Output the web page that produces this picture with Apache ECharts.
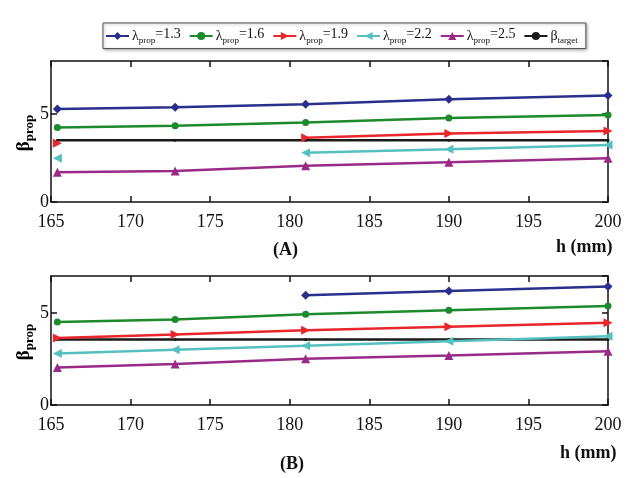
<!DOCTYPE html>
<html><head><meta charset="utf-8">
<script src="https://cdn.jsdelivr.net/npm/echarts@6/dist/echarts.min.js"></script>
<style>html,body{margin:0;padding:0;background:#fff}#c{width:630px;height:478px}</style>
</head><body><div id="c"></div>
<script>
// ---- data ----
var h = [165.4, 172.8, 181, 190, 200];
var seriesNames = ['λprop=1.3', 'λprop=1.6', 'λprop=1.9', 'λprop=2.2', 'λprop=2.5', 'βtarget'];
// Panel A
var A_l13 = [5.28, 5.38, 5.55, 5.83, 6.04];
var A_l16 = [4.22, 4.32, 4.51, 4.76, 4.94];
var A_l19 = [3.34, null, 3.65, 3.88, 4.03];
var A_l22 = [2.48, null, 2.80, 2.99, 3.24];
var A_l25 = [1.69, 1.76, 2.05, 2.26, 2.48];
var A_tgt = [3.5, 3.5, 3.5, 3.5, 3.5];
// Panel B
var B_l13 = [null, null, 5.96, 6.19, 6.43];
var B_l16 = [4.50, 4.64, 4.92, 5.14, 5.37];
var B_l19 = [3.64, 3.83, 4.06, 4.25, 4.46];
var B_l22 = [2.79, 3.00, 3.22, 3.46, 3.73];
var B_l25 = [2.04, 2.22, 2.51, 2.69, 2.91];
var B_tgt = [3.55, 3.55, 3.55, 3.55, 3.55];
var xTicks = [165, 170, 175, 180, 185, 190, 195, 200];
var yMaxA = 8, yMaxB = 7;

var colors = ['#2a2e8c', '#1b8a2b', '#e8262b', '#56c0c0', '#9a2a88', '#1a1a1a'];
var symbols = [
  {s: 'diamond', r: 0, z: 9},
  {s: 'circle', r: 0, z: 7},
  {s: 'triangle', r: -90, z: 9},
  {s: 'triangle', r: 90, z: 9},
  {s: 'triangle', r: 0, z: 9},
  {s: 'circle', r: 0, z: 3}
];
function pairs(arr){ return h.map(function(x,i){ return [x, arr[i]]; }); }
var dataA = [A_l13, A_l16, A_l19, A_l22, A_l25, A_tgt];
var dataB = [B_l13, B_l16, B_l19, B_l22, B_l25, B_tgt];

var series = [];
[dataA, dataB].forEach(function(d, gi){
  d.forEach(function(arr, si){
    series.push({
      name: seriesNames[si], type: 'line', xAxisIndex: gi*2, yAxisIndex: gi*2,
      data: pairs(arr), connectNulls: false, showAllSymbol: true,
      symbol: symbols[si].s, symbolRotate: symbols[si].r, symbolSize: symbols[si].z,
      lineStyle: {color: colors[si], width: 2.5},
      itemStyle: {color: colors[si]},
      z: si === 5 ? 1 : 2, animation: false
    });
  });
});

var serif = 'Liberation Serif';
function xAxes(gi){
  var base = {
    type: 'value', min: 165, max: 200, interval: 5, gridIndex: gi,
    axisLine: {show: true, onZero: false, lineStyle: {color: '#111', width: 1.5}},
    axisTick: {show: true, inside: true, length: 6, lineStyle: {color: '#111', width: 1.5}},
    splitLine: {show: false}
  };
  var bottom = Object.assign({}, base, {position: 'bottom',
    axisLabel: {color: '#111', fontFamily: serif, fontSize: 18, margin: 11,
      customValues: xTicks}});
  var top = Object.assign({}, base, {position: 'top', axisLabel: {show: false}});
  return [bottom, top];
}
function yAxes(gi, mx){
  var base = {
    type: 'value', min: 0, max: mx, interval: 5, gridIndex: gi,
    axisLine: {show: true, lineStyle: {color: '#111', width: 1.5}},
    axisTick: {show: true, inside: true, length: 6, lineStyle: {color: '#111', width: 1.5}},
    splitLine: {show: false}
  };
  var left = Object.assign({}, base, {position: 'left',
    axisLabel: {color: '#111', fontFamily: serif, fontSize: 18, margin: 2, showMaxLabel: false}});
  var right = Object.assign({}, base, {position: 'right', axisLabel: {show: false}});
  return [left, right];
}

var subRich = {
  a: {fontFamily: serif, fontSize: 14, color: '#111'},
  s: {fontFamily: serif, fontSize: 9, color: '#111', padding: [10, 0, 0, 0]},
  e: {fontFamily: serif, fontSize: 14, color: '#111', padding: [0, 0, 4, 0]}
};
var labRich = {
  b: {fontFamily: serif, fontSize: 19, fontWeight: 'bold', color: '#111'},
  s: {fontFamily: serif, fontSize: 13, fontWeight: 'bold', color: '#111', padding: [12, 0, 0, 0]}
};
function rotLabel(cx, cy){
  return {type: 'text', x: cx, y: cy, rotation: Math.PI/2,
    style: {text: '{b|β}{s|prop}', rich: labRich, align: 'center', verticalAlign: 'middle'}};
}

var option = {
  backgroundColor: '#fff',
  animation: false,
  legend: {
    left: 103, top: 23, width: 560,
    data: seriesNames,
    itemWidth: 23, itemHeight: 10, itemGap: 8,
    borderColor: '#555', borderWidth: 1, padding: [4, 8, 3, 2],
    shadowColor: 'rgba(0,0,0,0.3)', shadowBlur: 3, shadowOffsetX: 1, shadowOffsetY: 1,
    backgroundColor: '#fff',
    formatter: function(n){
      var m = n.match(/^(.)(prop|target)(.*)$/);
      return '{a|' + m[1] + '}{s|' + m[2] + '}' + (m[3] ? '{e|' + m[3] + '}' : '');
    },
    textStyle: {rich: subRich, padding: [0, 0, 0, -2]}
  },
  grid: [
    {left: 51, right: 22, top: 61, height: 141},
    {left: 51, right: 22, top: 276, height: 129}
  ],
  xAxis: xAxes(0).concat(xAxes(1)),
  yAxis: yAxes(0, yMaxA).concat(yAxes(1, yMaxB)),
  series: series,
  graphic: [
    rotLabel(24, 133),
    rotLabel(24, 342),
    {type: 'text', left: 556, top: 238, style: {text: 'h (mm)', fontFamily: serif, fontSize: 18, fontWeight: 'bold', fill: '#111'}},
    {type: 'text', left: 560, top: 444, style: {text: 'h (mm)', fontFamily: serif, fontSize: 18, fontWeight: 'bold', fill: '#111'}},
    {type: 'text', left: 273, top: 241, style: {text: '(A)', fontFamily: serif, fontSize: 18, fontWeight: 'bold', fill: '#111'}},
    {type: 'text', left: 280, top: 455, style: {text: '(B)', fontFamily: serif, fontSize: 18, fontWeight: 'bold', fill: '#111'}}
  ]
};
var chart = echarts.init(document.getElementById('c'), null, {renderer: 'canvas'});
chart.setOption(option);
</script>
</body></html>
